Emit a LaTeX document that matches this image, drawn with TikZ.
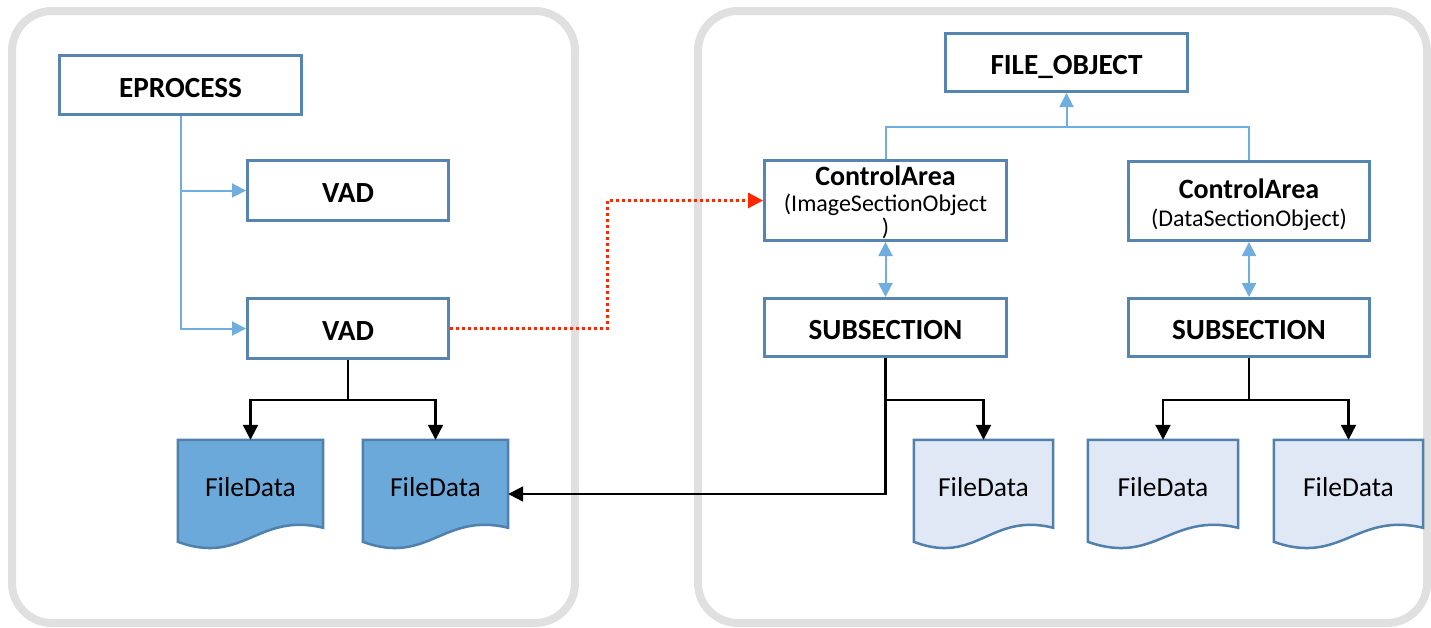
\documentclass[tikz,border=0pt]{standalone}
\usepackage{fontspec}
\setmainfont{Carlito}
\usetikzlibrary{arrows.meta,backgrounds,calc}

\definecolor{panelgrey}{HTML}{E0E0E0}
\definecolor{boxline}{HTML}{5585B0}
\definecolor{linkblue}{HTML}{6FAEDF}
\definecolor{docdark}{HTML}{6AA9DA}
\definecolor{docline}{HTML}{5080AC}
\definecolor{doclight}{HTML}{E1E8F5}
\definecolor{refred}{HTML}{FF2600}

% smaller regular text under a bold title
\newcommand\subtxtfont{\fontsize{24}{28}\selectfont\mdseries}

\tikzset{
  panel/.style={draw=panelgrey, line width=8pt, rounded corners=40pt},
  objbox/.style={draw=boxline, line width=3pt, fill=white, inner sep=0pt,
    align=center, font=\fontsize{29.2}{29}\selectfont\bfseries,
    text height=24pt, text depth=0pt},
  titlebox/.style={draw=boxline, line width=3pt, fill=white, inner sep=0pt},
  titletext/.style={align=center, font=\fontsize{28}{28}\selectfont\bfseries},
  docnode/.style={inner sep=0pt, minimum height=94pt,
    font=\fontsize{27.5}{30}\selectfont},
  bluelink/.style={draw=linkblue, line width=2pt},
  bluearrow/.style={bluelink, -{Triangle[length=14pt,width=14pt]}},
  bluedouble/.style={bluelink, {Triangle[length=14pt,width=14pt]}-{Triangle[length=14pt,width=14pt]}},
  blackline/.style={draw=black, line width=2.2pt},
  blackarrow/.style={blackline, -{Triangle[length=15pt,width=15pt]}},
  redlink/.style={draw=refred, line width=3pt, dash pattern=on 3pt off 3pt,
    -{Triangle[length=15pt,width=15pt]}},
}

% wavy document outline around a named node
\newcommand\docoutline[1]{%
  (#1.north west) -- (#1.north east) -- ($(#1.north east)+(0,88)$)
  .. controls ($(#1.north east)!0.45!(#1.north west)+(0,72)$)
  and ($(#1.north east)!0.55!(#1.north west)+(0,126)$)
  .. ($(#1.north west)+(0,102)$) -- cycle}

\begin{document}
\begin{tikzpicture}[x=1pt, y=-1pt]
\useasboundingbox (0,0) rectangle (1431,627);

% process-side objects
\node[objbox, minimum width=242pt, minimum height=59pt] (ep) at (180.5,85) {EPROCESS};
\node[objbox, minimum width=201pt, minimum height=60pt] (vad1) at (348,190.5) {VAD};
\node[objbox, minimum width=201pt, minimum height=60pt] (vad2) at (348,328.5) {VAD};

% file-side objects
\node[objbox, minimum width=242pt, minimum height=58pt] (fo) at (1066.5,62.5) {FILE\_OBJECT};
\node[titlebox, minimum width=242pt, minimum height=80pt,
  label={[titletext, yshift=-2pt]center:ControlArea\\[-2pt]{\subtxtfont(ImageSectionObject}\\[-4pt]{\subtxtfont)}}]
  (ca1) at (885.5,200.5) {};
\node[titlebox, minimum width=241pt, minimum height=79pt,
  label={[titletext, yshift=-4pt]center:ControlArea\\[0pt]{\subtxtfont(DataSectionObject)}}]
  (ca2) at (1249,201) {};
\node[objbox, minimum width=242pt, minimum height=58pt] (sub1) at (885.5,327.5) {SUBSECTION};
\node[objbox, minimum width=241pt, minimum height=58pt] (sub2) at (1249,327.5) {SUBSECTION};

% file data pages
\node[docnode, minimum width=145pt] (d1) at (250.5,487) {FileData};
\node[docnode, minimum width=145pt] (d2) at (435.5,487) {FileData};
\node[docnode, minimum width=139pt] (d3) at (983.5,487) {FileData};
\node[docnode, minimum width=150pt] (d4) at (1163,487) {FileData};
\node[docnode, minimum width=149pt] (d5) at (1348.5,487) {FileData};

\begin{scope}[on background layer]
  \draw[panel] (12,11) rectangle (575,623);
  \draw[panel] (698,11) rectangle (1427,623);
  \foreach \d in {d1,d2}
    \draw[draw=docline, fill=docdark, line width=2.5pt] \docoutline{\d};
  \foreach \d in {d3,d4,d5}
    \draw[draw=docline, fill=doclight, line width=2.5pt] \docoutline{\d};
\end{scope}

% EPROCESS to its VADs
\draw[bluearrow] (ep.south) |- (vad2.west);
\draw[bluearrow] (ep.south |- vad1.west) -- (vad1.west);

% control areas up to FILE_OBJECT
\coordinate (fj) at (1066.5,127);
\draw[bluelink] (ca1.north) |- (fj) -| (ca2.north);
\draw[bluearrow] (fj) -- (fo.south);

% control area <-> subsection
\draw[bluedouble] (ca1.south) -- (sub1.north);
\draw[bluedouble] (ca2.south) -- (sub2.north);

% VAD to its file data
\coordinate (vj) at (348,400);
\draw[blackline] (vad2.south) -- (vj);
\draw[blackarrow] (vj) -| (d1.north);
\draw[blackarrow] (vj) -| (d2.north);

% image subsection
\coordinate (s1j) at (885.5,400);
\draw[blackline] (sub1.south) -- (s1j);
\draw[blackarrow] (s1j) -| (d3.north);
\draw[blackarrow] (s1j) |- ([yshift=-7pt]d2.east);

% data subsection
\coordinate (s2j) at (1249,400);
\draw[blackline] (sub2.south) -- (s2j);
\draw[blackarrow] (s2j) -| (d4.north);
\draw[blackarrow] (s2j) -| (d5.north);

% VAD to image control area
\coordinate (rb) at (607.5,0);
\draw[redlink] (vad2.east) -- (vad2.east -| rb) |- (ca1.west);
\end{tikzpicture}
\end{document}
